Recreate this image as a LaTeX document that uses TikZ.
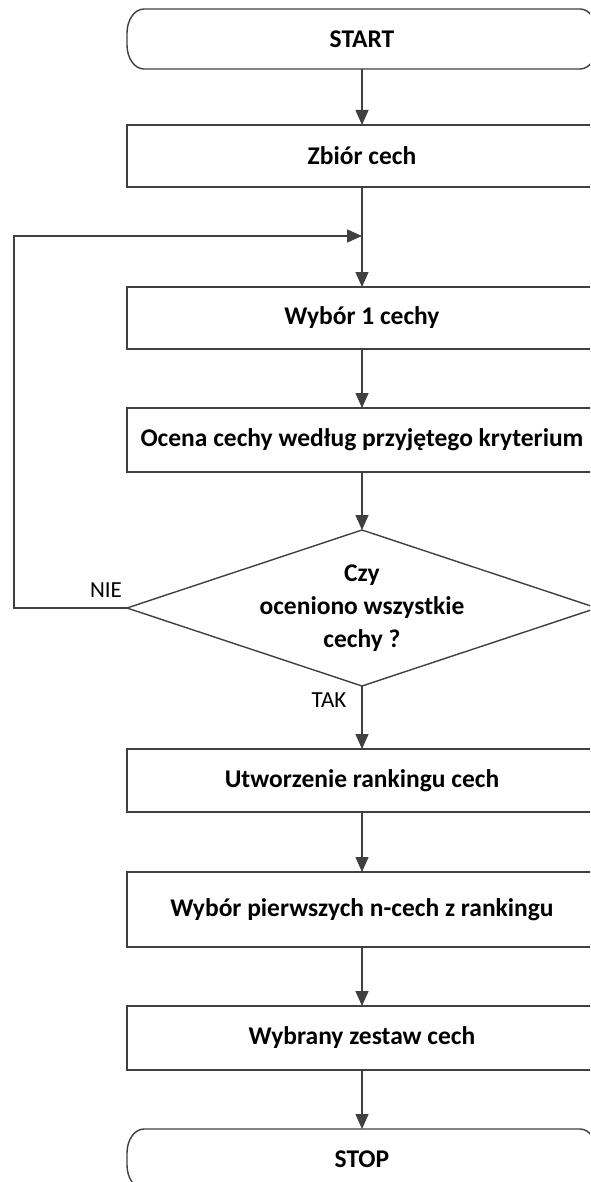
\documentclass[tikz,border=0pt]{standalone}
\usepackage{fontspec}
\setmainfont{Carlito}
\usetikzlibrary{arrows.meta,calc}
\definecolor{linegray}{HTML}{404040}

% outline of a terminator (START / STOP) around an invisible node
\newcommand\drawterm[1]{%
  \draw[line] ($(#1.north west)+(17,0)$) -- ($(#1.north east)+(-17,0)$)
    .. controls ($(#1.north east)+(-7.6,0)$) and ($(#1.north east)+(0,10.75)$) .. ($(#1.north east)+(0,24)$)
    -- ($(#1.south east)+(0,-24)$)
    .. controls ($(#1.south east)+(0,-10.75)$) and ($(#1.south east)+(-7.6,0)$) .. ($(#1.south east)+(-17,0)$)
    -- ($(#1.south west)+(17,0)$)
    .. controls ($(#1.south west)+(7.6,0)$) and ($(#1.south west)+(0,-10.75)$) .. ($(#1.south west)+(0,-24)$)
    -- ($(#1.north west)+(0,24)$)
    .. controls ($(#1.north west)+(0,10.75)$) and ($(#1.north west)+(7.6,0)$) .. ($(#1.north west)+(17,0)$)
    -- cycle;}

\begin{document}
\begin{tikzpicture}[x=1pt,y=-1pt,
  line/.style={draw=linegray, line width=1.4pt},
  flow/.style={line, -{Triangle[length=15pt,width=13pt]}},
  boxtext/.style={font=\bfseries\fontsize{25.5}{33}\selectfont, text=black},
  stepbox/.style={boxtext, line, rectangle, minimum width=470pt, inner sep=0pt, outer sep=0pt},
  term/.style={boxtext, rectangle, minimum width=470pt, minimum height=60pt, inner sep=0pt, outer sep=0pt},
  lbl/.style={font=\fontsize{23}{26}\selectfont, text=black, inner sep=0pt}]

\useasboundingbox (0,0) rectangle (590,1182);
\clip (0,0) rectangle (590,1182);
\fill[white] (0,0) rectangle (590,1182);

% nodes
\node[term] (start) at (362,39) {START};
\node[stepbox, minimum height=62pt] (zb) at (362,156) {Zbiór cech};
\coordinate (j) at (362,236);
\node[stepbox, minimum height=62pt] (w1) at (362,318) {Wybór 1 cechy};
\node[stepbox, minimum height=64pt] (oc) at (362,440) {Ocena cechy według przyjętego kryterium};

% decision
\coordinate (dt) at (362,530);
\coordinate (db) at (362,686);
\coordinate (dl) at (127,608);
\coordinate (dr) at (597,608);
\draw[line] (dt) -- (dr) -- (db) -- (dl) -- cycle;
\node[boxtext, align=center, inner sep=0pt] (dec) at (362,608) {Czy\\oceniono wszystkie\\cechy ?};
\coordinate (loopl) at (14,608);
\coordinate (loopt) at (14,236);

\node[stepbox, minimum height=63pt] (ut) at (362,780.5) {Utworzenie rankingu cech};
\node[stepbox, minimum height=75pt] (wp) at (362,909.5) {Wybór pierwszych n-cech z rankingu};
\node[stepbox, minimum height=64pt] (wz) at (362,1038) {Wybrany zestaw cech};
\node[term] (stop) at (362,1159) {STOP};

\drawterm{start}
\drawterm{stop}

% connectors
\draw[flow] (start) -- (zb);
\draw[line] (zb) -- (j);
\draw[flow] (j) -- (w1);
\draw[flow] (w1) -- (oc);
\draw[flow] (oc) -- (dt);
\draw[flow] (dl) -- (loopl) -- (loopt) -- (j);
\draw[flow] (db) -- (ut);
\draw[flow] (ut) -- (wp);
\draw[flow] (wp) -- (wz);
\draw[flow] (wz) -- (stop.north);

% branch labels
\node[lbl] (nie) at (106,590) {NIE};
\node[lbl] (tak) at (329,700) {TAK};
\end{tikzpicture}
\end{document}
